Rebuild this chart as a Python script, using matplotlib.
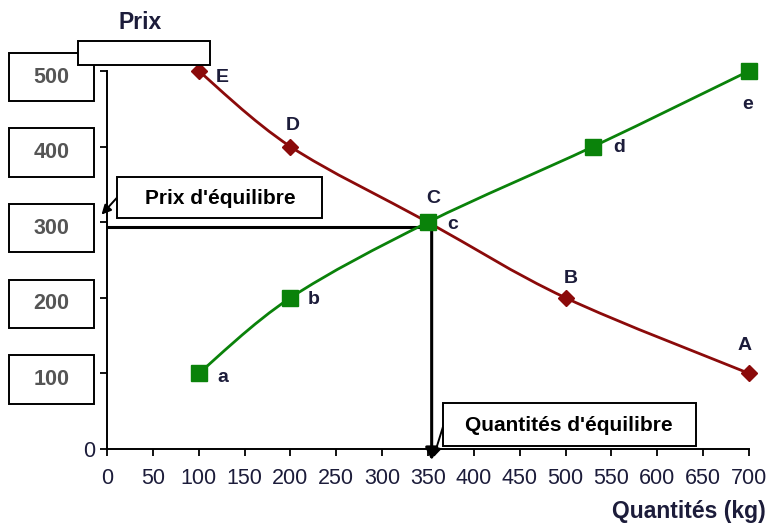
import numpy as np
import matplotlib.pyplot as plt
from matplotlib.path import Path
from matplotlib.patches import PathPatch, Rectangle

plt.rcParams['font.family'] = ['Liberation Sans', 'DejaVu Sans']

# ---- data -------------------------------------------------
demande_q = [100, 200, 350, 500, 700]
demande_p = [500, 400, 300, 200, 100]
demande_lbl = ['E', 'D', 'C', 'B', 'A']

offre_q = [100, 200, 350, 530, 700]
offre_p = [100, 200, 300, 400, 500]
offre_lbl = ['a', 'b', 'c', 'd', 'e']

x_ticks = list(range(0, 701, 50))
y_ticks = [0, 100, 200, 300, 400, 500]

q_eq = 354
p_eq = 294

# offsets of the point letters (points)
dem_off = [(17, -5), (2, 15), (4, 17), (4, 14), (-3, 20)]
off_off = [(17, -3), (17, -1), (18, -2), (19, -1), (-1, -24)]

RED = '#8b0a0a'
GREEN = '#0a820a'
TXT = '#1c1c3a'


def smooth_path(xs, ys):
    # bezier à la Excel (catmull-rom)
    pts = np.column_stack([xs, ys]).astype(float)
    ext = np.vstack([pts[0], pts, pts[-1]])
    verts = [pts[0]]
    codes = [Path.MOVETO]
    for i in range(len(pts) - 1):
        p0, p1, p2, p3 = ext[i], ext[i + 1], ext[i + 2], ext[i + 3]
        verts += [p1 + (p2 - p0) / 6, p2 - (p3 - p1) / 6, p2]
        codes += [Path.CURVE4] * 3
    return Path(verts, codes)


fig = plt.figure(figsize=(7.7, 5.26), dpi=100)
ax = fig.add_axes([0.139, 0.1464, 0.8337, 0.7186])
ax.set_xlim(0, 700)
ax.set_ylim(0, 500)

ax.add_patch(PathPatch(smooth_path(demande_q, demande_p), fill=False,
                       edgecolor=RED, lw=2, clip_on=False, zorder=3))
ax.add_patch(PathPatch(smooth_path(offre_q, offre_p), fill=False,
                       edgecolor=GREEN, lw=2, clip_on=False, zorder=3))
ax.plot(demande_q, demande_p, ls='none', marker='D', ms=8, color=RED,
        clip_on=False, zorder=4)
ax.plot(offre_q, offre_p, ls='none', marker='s', ms=11, color=GREEN,
        clip_on=False, zorder=5)

for q, p, t, o in zip(demande_q, demande_p, demande_lbl, dem_off):
    ax.annotate(t, (q, p), xytext=o, textcoords='offset points',
                ha='center', va='center', fontsize=14, fontweight='bold',
                color=TXT, zorder=6)
for q, p, t, o in zip(offre_q, offre_p, offre_lbl, off_off):
    ax.annotate(t, (q, p), xytext=o, textcoords='offset points',
                ha='center', va='center', fontsize=14, fontweight='bold',
                color=TXT, zorder=6)

# lignes d'équilibre
ax.plot([0, q_eq], [p_eq, p_eq], color='black', lw=2.2, zorder=2,
        solid_capstyle='butt')
ax.annotate('', xy=(q_eq, -15), xytext=(q_eq, p_eq), annotation_clip=False,
            arrowprops=dict(arrowstyle='-|>', color='black', lw=2.2,
                            mutation_scale=18, shrinkA=0, shrinkB=0))

# axes
for s in ['top', 'right']:
    ax.spines[s].set_visible(False)
for s in ['left', 'bottom']:
    ax.spines[s].set_linewidth(1.4)
ax.set_xticks(x_ticks)
ax.set_xticklabels([str(v) for v in x_ticks], fontsize=15.5, color=TXT)
ax.set_yticks(y_ticks)
ax.set_yticklabels(['0'] + [''] * 5, fontsize=15.5, color=TXT)
ax.tick_params(axis='both', direction='out', length=5, width=1.3)
ax.tick_params(axis='x', pad=9)

# étiquettes en boîtes sur l'axe des prix
ytr = ax.get_yaxis_transform()
for v in y_ticks[1:]:
    ax.add_patch(Rectangle((-0.153, v - 40), 0.133, 64, transform=ytr,
                           facecolor='white', edgecolor='black', lw=1.4,
                           clip_on=False))
    ax.text(-0.0865, v - 8, str(v), transform=ytr, ha='center', va='center',
            fontsize=15.5, fontweight='bold', color='#555555')

# titre de l'axe des prix (boîte blanche qui masque le reste)
ax.text(36, 564, 'Prix', ha='center', va='center', fontsize=16.5,
        fontweight='bold', color=TXT, clip_on=False)
ax.add_patch(Rectangle((-32, 508), 144, 32, facecolor='white',
                       edgecolor='black', lw=1.4, clip_on=False, zorder=7))

# Prix d'équilibre
ax.add_patch(Rectangle((11, 306), 223, 54, facecolor='white',
                       edgecolor='black', lw=1.4, clip_on=False, zorder=7))
ax.text(123, 331, "Prix d'équilibre", ha='center', va='center', fontsize=15,
        fontweight='bold', color='black', zorder=8)
ax.annotate('', xy=(-6, 310), xytext=(12, 334), annotation_clip=False,
            arrowprops=dict(arrowstyle='-|>', color='black', lw=1.4,
                            mutation_scale=14, shrinkA=0, shrinkB=0))

# Quantités d'équilibre
ax.add_patch(Rectangle((366, 4), 276, 57, facecolor='white',
                       edgecolor='black', lw=1.4, clip_on=False, zorder=7))
ax.text(504, 31, "Quantités d'équilibre", ha='center', va='center',
        fontsize=15, fontweight='bold', color='black', zorder=8)
ax.annotate('', xy=(356, -11), xytext=(367, 32), annotation_clip=False,
            arrowprops=dict(arrowstyle='-|>', color='black', lw=1.4,
                            mutation_scale=14, shrinkA=0, shrinkB=0))

fig.text(0.995, 0.027, 'Quantités (kg)', ha='right', va='center',
         fontsize=16.5, fontweight='bold', color=TXT)

fig.savefig('out.png', dpi=100)
